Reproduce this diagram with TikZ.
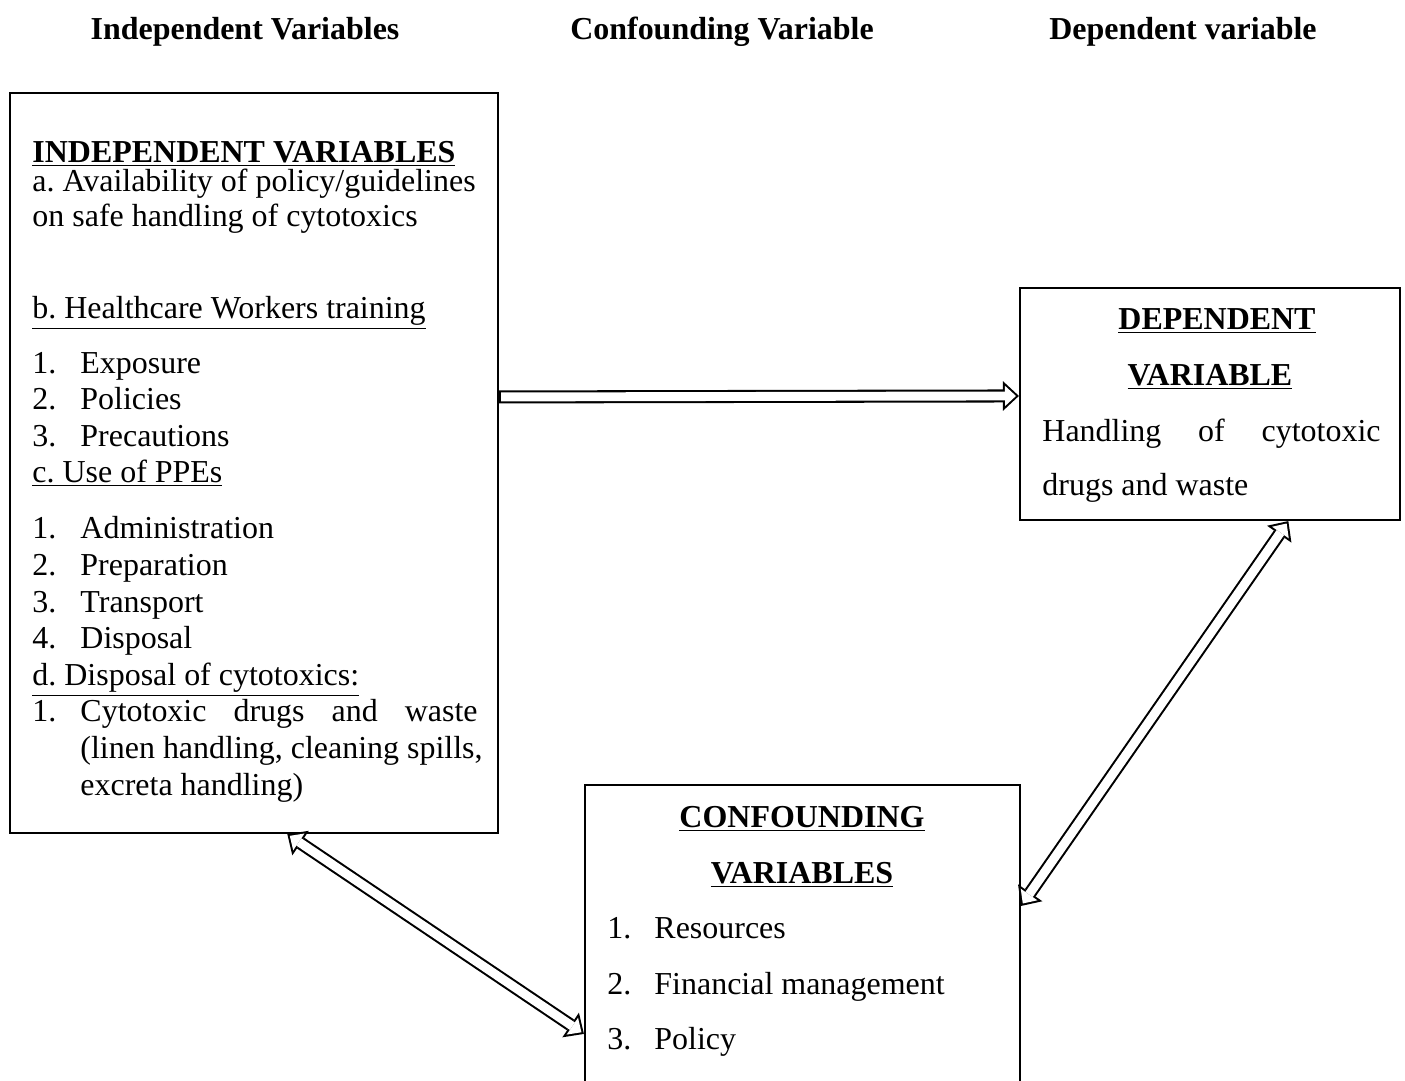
\documentclass[tikz,border=0pt]{standalone}
\usepackage{fontspec}
\setmainfont{Liberation Serif}
\usepackage{tikz}
\usetikzlibrary{arrows.meta,calc,positioning}
\frenchspacing

\newlength{\pxu}
\setlength{\pxu}{0.4382pt}

\tikzset{
  box/.style={draw, line width=0.9pt, inner sep=0pt},
  txt/.style={anchor=base west, inner sep=0pt, font=\fontsize{14}{16}\selectfont},
  head/.style={anchor=base, inner sep=0pt, font=\fontsize{14}{16}\selectfont\bfseries},
  outertip/.tip={Triangle[length=7pt, width=13pt, line width=0pt]},
  innertip/.tip={Triangle[length=4.8pt, width=8.9pt, line width=0pt]},
  hollow/.style={draw, line width=5.7pt, -outertip,
    postaction={draw=white, line width=3.9pt, -innertip,
      shorten >=1.3pt, shorten <=0.9pt}},
  hollowboth/.style={draw, line width=5.7pt, outertip-outertip,
    postaction={draw=white, line width=3.9pt, innertip-innertip,
      shorten >=1.3pt, shorten <=1.3pt}}
}

\begin{document}
\begin{tikzpicture}[x=0.0154cm, y=-0.0154cm]
  \clip (0,0) rectangle (1405,1080);

  % column titles
  \node[head] (tind) at (245,39) {Independent Variables};
  \node[head] (tcon) at (722,39) {Confounding Variable};
  \node[head] (tdep) at (1183,39) {Dependent variable};

  % the three boxes
  \begin{scope}[every node/.style={box}]
    \node[minimum width=488\pxu, minimum height=740\pxu] (indep) at (254,463) {};
    \node[minimum width=380\pxu, minimum height=232\pxu] (dep) at (1210,404) {};
    \node[minimum width=435\pxu, minimum height=330\pxu] (conf) at (802.5,950) {};
  \end{scope}

  % independent variables
  \node[txt] (i0) at (32,162) {\textbf{\underline{INDEPENDENT VARIABLES}}};
  \node[txt] (ia1) at (32,191) {a. Availability of policy/guidelines};
  \node[txt] (ia2) at (32,226) {on safe handling of cytotoxics};
  \node[txt] (ib) at (32,318) {\underline{b. Healthcare Workers training}};
  \node[txt] (ib1n) at (32,373) {1.};
  \node[txt] (ib1) at (80,373) {Exposure};
  \node[txt] (ib2n) at (32,409) {2.};
  \node[txt] (ib2) at (80,409) {Policies};
  \node[txt] (ib3n) at (32,446) {3.};
  \node[txt] (ib3) at (80,446) {Precautions};
  \node[txt] (ic) at (32,482) {\underline{c. Use of PPEs}};
  \node[txt] (ic1n) at (32,538) {1.};
  \node[txt] (ic1) at (80,538) {Administration};
  \node[txt] (ic2n) at (32,575) {2.};
  \node[txt] (ic2) at (80,575) {Preparation};
  \node[txt] (ic3n) at (32,612) {3.};
  \node[txt] (ic3) at (80,612) {Transport};
  \node[txt] (ic4n) at (32,648) {4.};
  \node[txt] (ic4) at (80,648) {Disposal};
  \node[txt] (id) at (32,685) {\underline{d. Disposal of cytotoxics:}};
  \node[txt] (id1n) at (32,721) {1.};
  \node[txt] (id1) at (80,721) {\makebox[397\pxu][s]{Cytotoxic drugs and waste}};
  \node[txt] (id2) at (80,758) {(linen handling, cleaning spills,};
  \node[txt] (id3) at (80,795) {excreta handling)};

  % dependent variable
  \node[head] (d0) at (1217,329) {\underline{DEPENDENT}};
  \node[head] (d1) at (1210,385) {\underline{VARIABLE}};
  \node[txt] (d2) at (1042,441) {\makebox[338\pxu][s]{Handling of cytotoxic}};
  \node[txt] (d3) at (1042,495) {drugs and waste};

  % confounding variables
  \node[head] (c0) at (802,827) {\underline{CONFOUNDING}};
  \node[head] (c1) at (802,883) {\underline{VARIABLES}};
  \node[txt] (c2n) at (607,938) {1.};
  \node[txt] (c2) at (654,938) {Resources};
  \node[txt] (c3n) at (607,994) {2.};
  \node[txt] (c3) at (654,994) {Financial management};
  \node[txt] (c4n) at (607,1049) {3.};
  \node[txt] (c4) at (654,1049) {Policy};

  % connectors
  \path[hollow] ($(indep.north east)!0.411!(indep.south east)$)
        -- ($(dep.north west)+(0,109)$);
  \path[hollowboth] ($(indep.south west)!0.568!(indep.south east)$)
        -- ($(conf.north west)+(0,250)$);
  \path[hollowboth] ($(dep.south west)!0.705!(dep.south east)$)
        -- ($(conf.north east)+(0,122)$);
\end{tikzpicture}
\end{document}
